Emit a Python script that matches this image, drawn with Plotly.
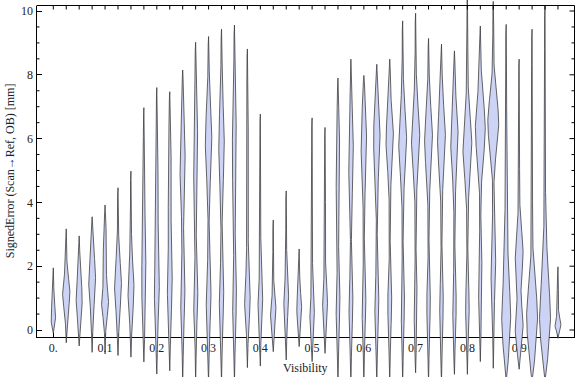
import numpy as np
import plotly.graph_objects as go

# ---------------- data ----------------
visibility = [0.0, 0.025, 0.05, 0.075, 0.1, 0.125, 0.15, 0.175, 0.2, 0.225,
              0.25, 0.275, 0.3, 0.325, 0.35, 0.375, 0.4, 0.425, 0.45, 0.475,
              0.5, 0.525, 0.55, 0.575, 0.6, 0.625, 0.65, 0.675, 0.7, 0.725,
              0.75, 0.775, 0.8, 0.825, 0.85, 0.875, 0.9, 0.925, 0.95, 0.975]
err_min = [-0.1, -0.4, -0.5, -0.7, -0.75, -0.8, -0.85, -1.0, -1.38, -1.28,
           -1.6, -1.6, -1.6, -1.6, -1.6, -1.18, -1.13, -0.68, -0.94, -0.52,
           -0.99, -0.73, -1.6, -1.6, -1.6, -1.6, -1.6, -1.6, -1.34, -1.6,
           -1.6, -1.39, -1.39, -0.99, -1.2, -1.6, -1.23, -1.6, -1.6, -0.26]
err_max = [1.95, 3.17, 2.95, 3.55, 3.92, 4.46, 4.98, 6.97, 7.6, 7.47,
           8.15, 9.02, 9.2, 9.43, 9.56, 8.81, 6.77, 3.45, 4.36, 2.54,
           6.65, 6.35, 7.9, 8.49, 7.98, 8.33, 8.49, 9.69, 9.93, 9.14,
           8.96, 8.75, 10.6, 9.53, 10.3, 9.58, 8.49, 9.43, 10.16, 1.98]
# main (lower) mode of each distribution
mode1_center = [0.4, 1.15, 1.0, 1.6, 0.85, 1.4, 1.3, 1.5, 1.2, 1.4,
                1.1, 1.0, 1.0, 1.0, 1.0, 0.9, 0.9, 0.55, 0.95, 0.7,
                0.5, 0.9, 0.8, 0.8, 0.8, 0.8, 0.8, 0.8, 0.8, 0.8,
                0.8, 0.8, 0.8, 1.5, 2.0, 0.4, 0.1, 0.4, 0.4, 0.15]
mode1_spread = [0.35, 0.45, 0.55, 0.7, 0.4, 0.7, 0.7, 0.9, 0.7, 0.8,
                0.7, 0.6, 0.7, 0.7, 0.7, 0.6, 0.5, 0.35, 0.45, 0.4,
                0.4, 0.5, 0.6, 0.6, 0.6, 0.6, 0.6, 0.6, 0.6, 0.6,
                0.6, 0.6, 0.6, 0.8, 0.8, 1.0, 0.6, 1.0, 1.0, 0.2]
mode1_density = [1.8, 3.2, 2.6, 3.0, 3.0, 3.0, 2.6, 1.8, 2.0, 2.0,
                 1.8, 1.8, 2.0, 1.8, 1.6, 2.3, 1.9, 2.4, 2.0, 2.0,
                 1.8, 2.0, 1.6, 1.6, 1.6, 1.6, 1.6, 1.4, 1.4, 1.4,
                 1.4, 1.4, 1.4, 1.5, 2.0, 4.0, 3.5, 5.0, 5.0, 2.5]
# secondary (upper) mode
mode2_center = [0, 0, 0, 0, 2.4, 0, 0, 4.0, 4.0, 4.5,
                5.0, 5.5, 5.9, 5.8, 5.5, 4.5, 0, 0, 0, 0,
                0, 0, 5.0, 5.5, 5.8, 6.0, 5.95, 5.9, 6.0, 5.95,
                5.95, 5.95, 5.75, 6.3, 6.5, 3.0, 2.4, 0, 2.5, 0]
mode2_spread = [1, 1, 1, 1, 0.6, 1, 1, 1.0, 1.2, 1.2,
                1.0, 1.2, 1.0, 1.1, 1.3, 1.5, 1, 1, 1, 1,
                1, 1, 1.2, 1.0, 1.0, 0.9, 0.8, 0.9, 0.9, 0.9,
                0.9, 0.9, 0.9, 0.9, 0.8, 1.0, 0.7, 1, 0.8, 1]
mode2_density = [0, 0, 0, 0, 1.3, 0, 0, 0.6, 1.0, 1.2,
                 2.2, 1.8, 2.8, 2.3, 1.7, 0.8, 0, 0, 0, 0,
                 0, 0, 1.5, 2.0, 2.3, 2.8, 3.3, 3.5, 3.7, 3.5,
                 3.5, 3.3, 4.0, 4.5, 5.0, 1.0, 3.5, 0, 1.0, 0]
x_tick_labels = ["0.", "0.1", "0.2", "0.3", "0.4", "0.5", "0.6", "0.7", "0.8", "0.9"]
x_tick_values = [0.0, 0.1, 0.2, 0.3, 0.4, 0.5, 0.6, 0.7, 0.8, 0.9]
y_tick_values = [0, 2, 4, 6, 8, 10]
y_minor_tick_values = [0.5, 1, 1.5, 2.5, 3, 3.5, 4.5, 5, 5.5, 6.5, 7, 7.5, 8.5, 9, 9.5]

# ---------------- styling ----------------
W, H = 576, 377
FONT = "Liberation Serif"
FILL = "#ccd3f5"
EDGE = "rgba(55,55,55,0.85)"
WIDTH_SCALE = 0.00193  # x-units per density unit
BASE = 0.45

# pixel geometry of the frame
px_x0 = 53.3      # pixel of visibility 0
px_per_x = 517.6  # pixels per visibility unit
py_0 = 330.0      # pixel of error 0
py_per_y = 31.9
frame_l, frame_r, frame_t, frame_b = 36.5, 574.5, 5.5, 337.0


def xdat(px):
    return (px - px_x0) / px_per_x


def ydat(py):
    return (py_0 - py) / py_per_y


fig = go.Figure()

# invisible anchor trace so the framed (labelled) axes are drawn
fig.add_trace(go.Scatter(x=[visibility[0]], y=[y_tick_values[0]], mode="markers",
                         marker=dict(opacity=0), hoverinfo="skip", showlegend=False,
                         xaxis="x", yaxis="y"))

for i, xv in enumerate(visibility):
    lo, hi = err_min[i], err_max[i]
    v = np.linspace(lo, hi, 160)
    dens = BASE + mode1_density[i] * np.exp(-0.5 * ((v - mode1_center[i]) / mode1_spread[i]) ** 2)
    if mode2_density[i] > 0:
        dens = dens + mode2_density[i] * np.exp(-0.5 * ((v - mode2_center[i]) / mode2_spread[i]) ** 2)
    taper = np.clip(np.minimum(v - lo, hi - v) / 0.35, 0, 1) ** 0.8
    hw = dens * taper * WIDTH_SCALE
    xs = np.concatenate([xv + hw, (xv - hw)[::-1], [xv + hw[0]]])
    ys = np.concatenate([v, v[::-1], [v[0]]])
    fig.add_trace(go.Scatter(
        x=xs, y=ys, mode="lines", fill="toself", fillcolor=FILL,
        line=dict(color=EDGE, width=0.9), xaxis="x2", yaxis="y2",
        hoverinfo="skip", showlegend=False))

# top and right frame edges plus their inward ticks, and left minor ticks
fx, fy = [], []
# top edge and right edge
fx += [xdat(frame_l), xdat(frame_r), xdat(frame_r), None]
fy += [ydat(frame_t), ydat(frame_t), ydat(frame_b), None]
# top ticks at every category
for t in visibility:
    fx += [t, t, None]
    fy += [ydat(frame_t), ydat(frame_t + 4), None]
# right major / minor ticks
for t in y_tick_values:
    fx += [xdat(frame_r), xdat(frame_r - 5), None]
    fy += [t, t, None]
for t in y_minor_tick_values:
    fx += [xdat(frame_r), xdat(frame_r - 3), None]
    fy += [t, t, None]
    fx += [xdat(frame_l), xdat(frame_l + 3), None]
    fy += [t, t, None]
fig.add_trace(go.Scatter(x=fx, y=fy, mode="lines", line=dict(color="black", width=1),
                         xaxis="x2", yaxis="y2", hoverinfo="skip", showlegend=False))

all_text = []
for t in visibility:
    lbl = ""
    for tv, tl in zip(x_tick_values, x_tick_labels):
        if abs(tv - t) < 1e-9:
            lbl = tl
    all_text.append(lbl)

xdom = [frame_l / W, frame_r / W]
ydom = [(H - frame_b) / H, (H - frame_t) / H]
tickfont = dict(family=FONT, size=12, color="#222222")

fig.update_layout(
    width=W, height=H,
    margin=dict(l=0, r=0, t=0, b=0),
    paper_bgcolor="white", plot_bgcolor="rgba(0,0,0,0)",
    font=dict(family=FONT, size=12, color="#222222"),
    xaxis=dict(domain=xdom, range=[xdat(frame_l), xdat(frame_r)], anchor="y",
               showline=True, linecolor="black", linewidth=1,
               ticks="inside", ticklen=4, tickwidth=1, tickcolor="black",
               tickvals=visibility, ticktext=all_text,
               showgrid=False, zeroline=False, tickfont=tickfont),
    yaxis=dict(domain=ydom, range=[ydat(frame_b), ydat(frame_t)], anchor="x",
               showline=True, linecolor="black", linewidth=1,
               ticks="inside", ticklen=5, tickwidth=1, tickcolor="black",
               tickvals=y_tick_values, showgrid=False, zeroline=False, tickfont=tickfont),
    xaxis2=dict(domain=[0, 1], range=[xdat(0), xdat(W)], anchor="y2",
                visible=False, showgrid=False, zeroline=False),
    yaxis2=dict(domain=[0, 1], range=[ydat(H), ydat(0)], anchor="x2",
                visible=False, showgrid=False, zeroline=False),
    annotations=[
        dict(text="Visibility", xref="paper", yref="paper",
             x=(frame_l + frame_r) / 2 / W, y=(H - 368) / H,
             showarrow=False, font=dict(family=FONT, size=12, color="#222222"),
             xanchor="center", yanchor="middle"),
        dict(text="SignedError (Scan\u2192Ref, OB) [mm]", xref="paper", yref="paper",
             x=10 / W, y=(H - (frame_t + frame_b) / 2) / H, textangle=-90,
             showarrow=False, font=dict(family=FONT, size=12, color="#222222"),
             xanchor="center", yanchor="middle"),
    ],
)

fig.write_html("out.html", config={"displayModeBar": False},
               post_script="document.body.style.margin='0';document.body.style.padding='0';")
